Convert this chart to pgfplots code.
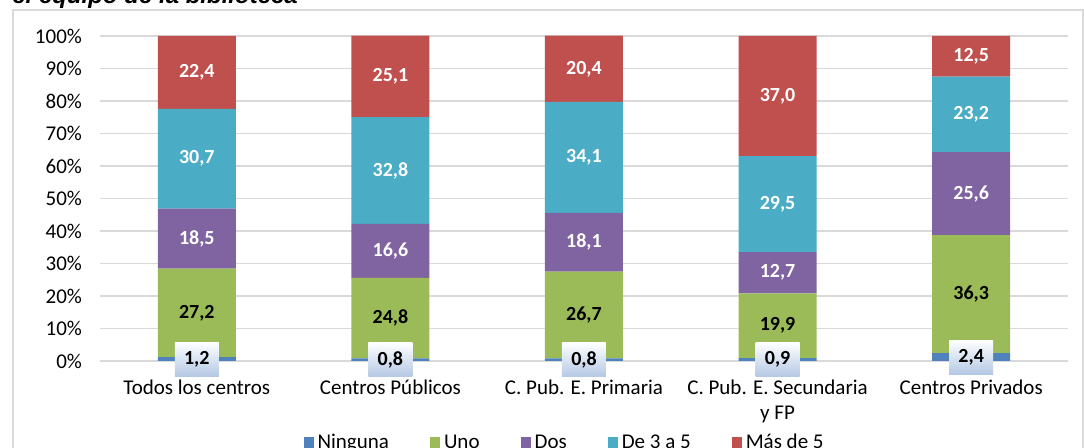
\documentclass[border=0pt]{standalone}
\usepackage{pgfplots}
\pgfplotsset{compat=1.18}
\usepackage{pgfplotstable}
\usetikzlibrary{shadings}
\usepackage{fontspec}
\setmainfont{Carlito}
\newfontfamily\titlefont{Liberation Sans}
\definecolor{cNin}{HTML}{4F81BD}
\definecolor{cUno}{HTML}{9BBB59}
\definecolor{cDos}{HTML}{8064A2}
\definecolor{cTres}{HTML}{4BACC6}
\definecolor{cMas}{HTML}{C0504D}
\definecolor{cGrid}{HTML}{D9D9D9}
\definecolor{cBoxB}{HTML}{B4C8E4}

\pgfplotstableread{
x ninguna uno dos tres mas
0 1.2 27.2 18.5 30.7 22.4
1 0.8 24.8 16.6 32.8 25.1
2 0.8 26.7 18.1 34.1 20.4
3 0.9 19.9 12.7 29.5 37.0
4 2.4 36.3 25.6 23.2 12.5
}\datatable

\pgfplotsset{
  lbl/.style={
    nodes near coords={\pgfmathprintnumber[fixed,fixed zerofill,precision=1,use comma]{\pgfplotspointmeta}},
    point meta=explicit,
    every node near coord/.append style={anchor=center, text=#1,
      font=\bfseries\fontsize{10}{12}\selectfont},
  },
  sq/.style={legend image code/.code={\fill[#1] (0pt,-2.75pt) rectangle (5pt,2.75pt);}},
  common/.style={
    anchor=south west, at={(50pt,43.5pt)},
    width=484pt, height=162.5pt, scale only axis,
    xmin=-0.5, xmax=4.5, ymin=0, ymax=100,
    bar width=39pt, clip=false,
    /pgf/number format/assume math mode=true,
  },
}

\begin{document}
\begin{tikzpicture}[x=0.5pt,y=0.5pt]
\useasboundingbox (0,0) rectangle (1084,448);
\clip (0,0) rectangle (1084,448);
\draw[cGrid, line width=0.6pt] (13,-10) rectangle (1083,438);
\node[anchor=base west, inner sep=0, font=\titlefont\bfseries\itshape\fontsize{12}{14}\selectfont] at (12,444) {el equipo de la biblioteca};
\begin{axis}[
  common,
  ybar stacked,
  axis line style={draw=none},
  major tick length=0pt,
  xtick={0,1,2,3,4},
  xticklabels={Todos los centros, Centros Públicos, C. Pub. E. Primaria, {C. Pub. E. Secundaria\\y FP}, Centros Privados},
  xticklabel style={align=center, font=\fontsize{10.5}{12.5}\selectfont, yshift=-6pt},
  ytick={0,10,...,100},
  yticklabel={\pgfmathprintnumber{\tick}\%},
  yticklabel style={font=\fontsize{10.5}{12.5}\selectfont, xshift=-5.5pt},
  ymajorgrids, grid style={cGrid, line width=0.75pt},
  legend style={at={(0.481,-0.252)}, anchor=center, draw=none, fill=none,
    legend columns=-1, font=\fontsize{10.5}{12.5}\selectfont,
    /tikz/every even column/.append style={column sep=18.5pt}},
]
\addplot[fill=cNin, draw=none, sq=cNin] table[x=x, y=ninguna] {\datatable};
\addplot[fill=cUno, draw=none, sq=cUno, lbl=black] table[x=x, y=uno, meta=uno] {\datatable};
\addplot[fill=cDos, draw=none, sq=cDos, lbl=white] table[x=x, y=dos, meta=dos] {\datatable};
\addplot[fill=cTres, draw=none, sq=cTres, lbl=white] table[x=x, y=tres, meta=tres] {\datatable};
\addplot[fill=cMas, draw=none, sq=cMas, lbl=white] table[x=x, y=mas, meta=mas] {\datatable};
\legend{Ninguna, Uno, Dos, De 3 a 5, Más de 5}
\end{axis}
\begin{axis}[
  common,
  ybar,
  hide axis,
]
\addplot[fill=none, draw=none, lbl=black,
  visualization depends on={rawy \as \rawy},
  every node near coord/.append style={top color=white, bottom color=cBoxB,
    minimum width=22pt, minimum height=17pt, inner sep=1pt,
    shift={(axis direction cs:0,-\rawy/2)}}]
  table[x=x, y=ninguna, meta=ninguna] {\datatable};
\end{axis}
\end{tikzpicture}
\end{document}
